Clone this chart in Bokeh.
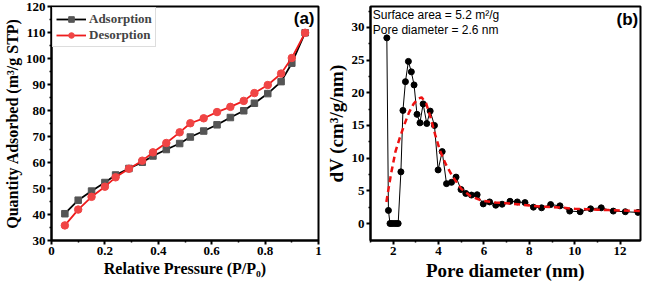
from bokeh.plotting import figure
from bokeh.layouts import row
from bokeh.models import Label, Range1d, FixedTicker, Legend, LegendItem
from bokeh.embed import file_html
from bokeh.resources import INLINE

# ---- Panel (a): N2 adsorption/desorption isotherm ----
p_rel = [0.05, 0.10, 0.15, 0.20, 0.24, 0.29, 0.34, 0.38, 0.43, 0.48,
         0.52, 0.57, 0.62, 0.67, 0.72, 0.76, 0.81, 0.86, 0.90, 0.95]
adsorption = [40.3, 45.5, 49.0, 52.3, 55.2, 57.7, 60.1, 62.5, 65.0, 67.3,
              69.8, 72.1, 74.5, 77.3, 79.9, 82.8, 86.5, 91.1, 98.2, 109.9]
desorption = [35.8, 41.9, 46.8, 50.7, 54.3, 57.6, 60.7, 63.9, 67.5, 71.6,
              75.1, 77.0, 79.4, 81.4, 83.7, 86.7, 89.8, 94.2, 100.2, 109.9]
a_xticks = [0.0, 0.2, 0.4, 0.6, 0.8, 1.0]
a_yticks = [30, 40, 50, 60, 70, 80, 90, 100, 110, 120]

# ---- Panel (b): pore size distribution ----
pore_d = [1.72, 1.79, 1.86, 1.95, 2.05, 2.14, 2.22, 2.34, 2.43, 2.54, 2.67, 2.80,
          2.92, 3.05, 3.18, 3.32, 3.48, 3.63, 3.82, 3.98, 4.16, 4.35, 4.57, 4.77,
          4.99, 5.20, 5.45, 5.70, 5.97, 6.25, 6.52, 6.80, 7.15, 7.47, 7.81, 8.18,
          8.54, 8.94, 9.35, 9.78, 10.24, 10.70, 11.17, 11.70, 12.23, 12.79]
dv = [28.4, 2.0, 0.0, 0.0, 0.0, 0.0, 0.0, 7.9, 17.3, 21.7, 24.8, 23.2,
      21.2, 16.7, 15.4, 18.3, 15.3, 17.2, 15.0, 8.2, 11.0, 6.1, 6.3, 7.1,
      5.2, 4.6, 4.35, 4.4, 3.0, 3.3, 2.8, 2.95, 3.4, 3.3, 3.2, 2.5,
      2.4, 2.9, 2.7, 1.9, 1.8, 2.25, 2.4, 1.9, 1.8, 1.7]
fit_d = [1.7, 1.9, 2.1, 2.3, 2.5, 2.7, 2.9, 3.1, 3.25, 3.45, 3.65, 3.85, 4.05,
         4.3, 4.6, 5.0, 5.4, 5.9, 6.5, 7.0, 7.5, 8.0, 8.5, 9.0, 9.5, 10.0,
         10.5, 11.0, 11.5, 12.0, 12.5, 12.9]
fit_dv = [3.3, 7.5, 11.0, 13.2, 15.2, 17.0, 18.3, 19.1, 19.3, 18.4, 16.2, 13.6,
          11.3, 9.2, 7.3, 5.3, 4.2, 3.5, 3.2, 3.1, 2.95, 2.75, 2.6, 2.5, 2.4,
          2.25, 2.2, 2.1, 2.05, 2.0, 1.95, 1.9]
b_xticks = [2, 4, 6, 8, 10, 12]
b_yticks = [0, 5, 10, 15, 20, 25, 30]

SERIF = "Liberation Serif"
SANS = "Liberation Sans"


def style(p, xticks, yticks, xminor, yminor, tick_size, label_size):
    p.outline_line_color = "black"
    p.outline_line_width = 2
    p.outline_line_alpha = 1
    p.xgrid.visible = False
    p.ygrid.visible = False
    p.background_fill_color = "white"
    p.border_fill_color = "white"
    for ax, ticks, minor in ((p.xaxis[0], xticks, xminor), (p.yaxis[0], yticks, yminor)):
        ax.ticker = FixedTicker(ticks=ticks, minor_ticks=minor)
        ax.axis_line_width = 2
        ax.major_tick_line_width = 2
        ax.minor_tick_line_width = 1.5
        ax.major_tick_out = 4
        ax.major_tick_in = 0
        ax.minor_tick_out = 2
        ax.minor_tick_in = 0
        ax.major_label_text_font = SERIF
        ax.major_label_text_font_style = "bold"
        ax.major_label_text_font_size = tick_size
        ax.major_label_text_color = "black"
        ax.axis_label_text_font = SERIF
        ax.axis_label_text_font_style = "bold"
        ax.axis_label_text_font_size = label_size
        ax.axis_label_text_color = "black"
        ax.axis_label_standoff = 2
        ax.major_label_standoff = 2


# ---------- figure (a) ----------
pa = figure(width=322, height=283, output_backend="svg", toolbar_location=None,
            x_range=Range1d(0, 1.0), y_range=Range1d(30, 120),
            min_border_left=0, min_border_right=4, min_border_top=6, min_border_bottom=0)
style(pa, a_xticks, a_yticks,
      [0.1, 0.3, 0.5, 0.7, 0.9], [35, 45, 55, 65, 75, 85, 95, 105, 115],
      "13px", "16px")
pa.xaxis.axis_label = "Relative Pressure (P/P\u2080)"
pa.yaxis.axis_label = "Quantity Adsorbed (m\u00b3/g STP)"

la = pa.line(p_rel, adsorption, line_color="black", line_width=1.8)
ma = pa.scatter(p_rel, adsorption, marker="square", size=6.5, fill_color="#555555",
                line_color="#555555")
ld = pa.line(p_rel, desorption, line_color="#ee1c1c", line_width=1.8)
md = pa.scatter(p_rel, desorption, marker="circle", size=7.5, fill_color="#f04545",
                line_color="#f04545")

leg = Legend(items=[LegendItem(label="Adsorption", renderers=[la, ma]),
                    LegendItem(label="Desorption", renderers=[ld, md])],
             location="top_left")
leg.label_text_font = SERIF
leg.label_text_font_style = "bold"
leg.label_text_font_size = "13px"
leg.label_height = 14
leg.glyph_height = 14
leg.glyph_width = 30
leg.spacing = 0
leg.padding = 3
leg.margin = 1
leg.label_standoff = 3
leg.border_line_color = "#bbbbbb"
leg.border_line_width = 1
pa.add_layout(leg)

pa.add_layout(Label(x=0.985, y=119, text="(a)", text_align="right", text_baseline="top",
                    text_font=SANS, text_font_style="bold", text_font_size="17px",
                    text_color="black"))

# ---------- figure (b) ----------
pb = figure(width=322, height=283, output_backend="svg", toolbar_location=None,
            x_range=Range1d(1.0, 12.9), y_range=Range1d(-2.6, 33.2),
            min_border_left=0, min_border_right=4, min_border_top=6, min_border_bottom=0)
style(pb, b_xticks, b_yticks,
      [1, 3, 5, 7, 9, 11], [2.5, 7.5, 12.5, 17.5, 22.5, 27.5, 32.5],
      "13px", "19px")
pb.xaxis.axis_label = "Pore diameter (nm)"
pb.yaxis.axis_label = "dV (cm\u00b3/g/nm)"

pb.line(pore_d, dv, line_color="black", line_width=1)
pb.scatter(pore_d, dv, marker="circle", size=6, fill_color="black", line_color="black")
pb.line(fit_d, fit_dv, line_color="#ee1111", line_width=2.5, line_dash="6 4")

pb.add_layout(Label(x=1.1, y=33.0, text="Surface area = 5.2 m\u00b2/g", text_align="left",
                    text_baseline="top", text_font=SANS, text_font_size="12px",
                    text_color="black"))
pb.add_layout(Label(x=1.1, y=30.6, text="Pore diameter = 2.6 nm", text_align="left",
                    text_baseline="top", text_font=SANS, text_font_size="12px",
                    text_color="black"))
pb.add_layout(Label(x=12.8, y=32.7, text="(b)", text_align="right", text_baseline="top",
                    text_font=SANS, text_font_style="bold", text_font_size="17px",
                    text_color="black"))

layout = row(pa, pb)
open("out.html", "w").write(file_html(layout, INLINE))
